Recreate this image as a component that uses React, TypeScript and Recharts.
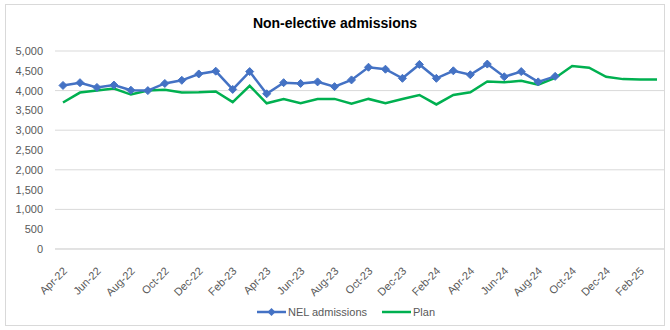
import React from 'react';
import { LineChart, Line, XAxis, YAxis, CartesianGrid, Legend } from 'recharts';

const months = [
  'Apr-22','May-22','Jun-22','Jul-22','Aug-22','Sep-22','Oct-22','Nov-22','Dec-22','Jan-23','Feb-23','Mar-23',
  'Apr-23','May-23','Jun-23','Jul-23','Aug-23','Sep-23','Oct-23','Nov-23','Dec-23','Jan-24','Feb-24','Mar-24',
  'Apr-24','May-24','Jun-24','Jul-24','Aug-24','Sep-24','Oct-24','Nov-24','Dec-24','Jan-25','Feb-25','Mar-25',
];

const nelAdmissions = [
  4130, 4200, 4080, 4140, 4010, 4000, 4180, 4260, 4420, 4490, 4030, 4480,
  3920, 4200, 4180, 4220, 4100, 4270, 4590, 4540, 4310, 4660, 4310, 4500,
  4400, 4670, 4350, 4480, 4220, 4360,
];

const plan = [
  3700, 3950, 4000, 4050, 3900, 4000, 4020, 3950, 3960, 3980, 3710, 4120,
  3680, 3790, 3680, 3790, 3790, 3670, 3790, 3680, 3790, 3890, 3650, 3890,
  3960, 4230, 4210, 4250, 4150, 4320, 4620, 4580, 4350, 4290, 4280, 4280,
];

const yTicks = [0, 500, 1000, 1500, 2000, 2500, 3000, 3500, 4000, 4500, 5000];

const data = months.map((m, i) => ({
  month: m,
  nel: i < nelAdmissions.length ? nelAdmissions[i] : null,
  plan: plan[i],
}));

const BLUE = '#4472C4';
const GREEN = '#00B050';
const FONT = '"Liberation Sans", Arial, sans-serif';

const Diamond = (props: any) => {
  const { cx, cy } = props;
  if (cx == null || cy == null || props.value == null) return null;
  const s = 4;
  return (
    <polygon
      points={`${cx},${cy - s} ${cx + s},${cy} ${cx},${cy + s} ${cx - s},${cy}`}
      fill={BLUE}
      stroke={BLUE}
      strokeWidth={1}
    />
  );
};

const XTick = (props: any) => {
  const { x, y, payload } = props;
  return (
    <g transform={`translate(${x + 2},${y + 12})`}>
      <text
        textAnchor="end"
        transform="rotate(-45)"
        fontSize={11}
        fill="#595959"
        fontFamily={FONT}
        dy="0.35em"
      >
        {payload.value}
      </text>
    </g>
  );
};

const LegendContent = () => (
  <div
    style={{
      display: 'flex',
      justifyContent: 'center',
      alignItems: 'center',
      fontFamily: FONT,
      fontSize: 11,
      color: '#595959',
      paddingLeft: 22,
    }}
  >
    <svg width={30} height={10} style={{ marginRight: 1 }}>
      <line x1={0} y1={5} x2={29} y2={5} stroke={BLUE} strokeWidth={2.5} />
      <polygon points="14.5,1 18.5,5 14.5,9 10.5,5" fill={BLUE} />
    </svg>
    <span>NEL admissions</span>
    <svg width={30} height={10} style={{ marginLeft: 15, marginRight: 1 }}>
      <line x1={0} y1={5} x2={29} y2={5} stroke={GREEN} strokeWidth={2.5} />
    </svg>
    <span>Plan</span>
  </div>
);

export default function App() {
  return (
    <div style={{ position: 'absolute', left: 0, top: 0, width: 670, height: 330, background: '#fff' }}>
      <div
        style={{
          position: 'absolute',
          left: 5,
          top: 4,
          width: 660,
          height: 322,
          border: '1px solid #d9d9d9',
          boxSizing: 'border-box',
        }}
      />
      <div
        style={{
          position: 'absolute',
          left: 0,
          top: 15,
          width: 670,
          textAlign: 'center',
          fontFamily: FONT,
          fontWeight: 'bold',
          fontSize: 14,
          color: '#000',
        }}
      >
        Non-elective admissions
      </div>
      <div style={{ position: 'absolute', left: 0, top: 0 }}>
        <LineChart
          width={670}
          height={330}
          data={data}
          margin={{ top: 51, right: 5, bottom: 0, left: 0 }}
        >
          <CartesianGrid vertical={false} stroke="#d9d9d9" strokeWidth={1} />
          <XAxis
            dataKey="month"
            interval={1}
            tick={<XTick />}
            tickLine={false}
            axisLine={{ stroke: '#d9d9d9' }}
            height={81}
            padding={{ left: 8, right: 8 }}
          />
          <YAxis
            domain={[0, 5000]}
            ticks={yTicks}
            tickFormatter={(v: number) => v.toLocaleString('en-US')}
            axisLine={false}
            tickLine={false}
            tickSize={0}
            tickMargin={12}
            width={55}
            tick={{ fontSize: 11, fill: '#595959', fontFamily: FONT }}
          />
          <Line
            type="linear"
            dataKey="plan"
            stroke={GREEN}
            strokeWidth={2.5}
            dot={false}
            isAnimationActive={false}
          />
          <Line
            type="linear"
            dataKey="nel"
            stroke={BLUE}
            strokeWidth={2.5}
            dot={<Diamond />}
            activeDot={false}
            connectNulls={false}
            isAnimationActive={false}
          />
          <Legend
            verticalAlign="middle"
            align="center"
            layout="horizontal"
            content={<LegendContent />}
            wrapperStyle={{ top: 306, left: 0, width: 670 }}
          />
        </LineChart>
      </div>
    </div>
  );
}
